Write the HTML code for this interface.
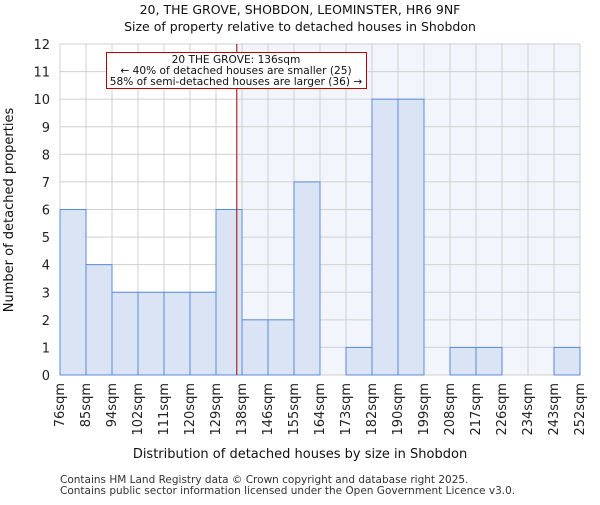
<!DOCTYPE html>
<html><head><meta charset="utf-8"><style>
body{margin:0;background:#fff;font-family:"Liberation Sans","DejaVu Sans",sans-serif}
</style></head><body>
<svg id="c" width="600" height="500" xmlns="http://www.w3.org/2000/svg" font-family="DejaVu Sans, Liberation Sans, sans-serif"></svg>
<script>
const binLabels=["76sqm","85sqm","94sqm","102sqm","111sqm","120sqm","129sqm","138sqm","146sqm","155sqm","164sqm","173sqm","182sqm","190sqm","199sqm","208sqm","217sqm","226sqm","234sqm","243sqm","252sqm"];
const counts=[6,4,3,3,3,3,6,2,2,7,0,1,10,10,0,1,1,0,0,1];
const yTicks=[0,1,2,3,4,5,6,7,8,9,10,11,12];
const markerBin=6.8;
const NS="http://www.w3.org/2000/svg";
const svg=document.getElementById('c');
const L=60,R=580,T=44,B=375,yMax=12;
const nb=counts.length;
const xs=i=>L+(R-L)*i/nb;
const ys=v=>B-(B-T)*v/yMax;
function mk(t,a,p){const e=document.createElementNS(NS,t);for(const k in a)e.setAttribute(k,a[k]);(p||svg).appendChild(e);return e;}
const sh=mk('rect',{x:xs(markerBin),y:T,width:R-xs(markerBin),height:B-T,fill:'#f2f5fc'});


for(let i=0;i<=nb;i++){const g=mk('line',{x1:xs(i),x2:xs(i),y1:T,y2:B,stroke:'#d0d0d0','stroke-width':1});

}
yTicks.forEach(v=>{const g=mk('line',{x1:L,x2:R,y1:ys(v),y2:ys(v),stroke:'#d0d0d0','stroke-width':1});


const t=mk('text',{x:L-10,y:ys(v)+5,'text-anchor':'end','font-size':13,fill:'#222'});t.textContent=v;

});
counts.forEach((c,i)=>{if(!c)return;const r=mk('rect',{x:xs(i),y:ys(c),width:xs(i+1)-xs(i),height:B-ys(c),fill:'#dae4f5',stroke:'#5a8bd8','stroke-width':1});

});
binLabels.forEach((s,i)=>{const x=xs(i)+4;const t=mk('text',{x:x,y:383,'text-anchor':'end','font-size':13,fill:'#222',transform:`rotate(-90 ${x} 383)`});t.textContent=s;

});
const ml=mk('line',{x1:xs(markerBin),x2:xs(markerBin),y1:T,y2:B,stroke:'#a00000','stroke-width':1});


</script>
<svg style="position:absolute;left:0;top:0" width="600" height="500" font-family="DejaVu Sans, Liberation Sans, sans-serif">
<rect x="106.5" y="52.5" width="260" height="36" fill="#fff" stroke="#c00000"/>
<text x="236" y="63" text-anchor="middle" font-size="10.6" fill="#111">20 THE GROVE: 136sqm</text>
<text x="236" y="74" text-anchor="middle" font-size="10.6" fill="#111">← 40% of detached houses are smaller (25)</text>
<text x="236" y="85" text-anchor="middle" font-size="10.6" fill="#111">58% of semi-detached houses are larger (36) →</text>
<text x="300" y="14" text-anchor="middle" font-size="12.5" fill="#111">20, THE GROVE, SHOBDON, LEOMINSTER, HR6 9NF</text>
<text x="300" y="31" text-anchor="middle" font-size="12.5" fill="#111">Size of property relative to detached houses in Shobdon</text>
<text x="300" y="458" text-anchor="middle" font-size="13" fill="#111">Distribution of detached houses by size in Shobdon</text>
<text x="13" y="210" text-anchor="middle" font-size="13" fill="#111" transform="rotate(-90 13 210)">Number of detached properties</text>
<text x="60" y="483" font-size="10.5" fill="#333">Contains HM Land Registry data © Crown copyright and database right 2025.</text>
<text x="60" y="494" font-size="10.5" fill="#333">Contains public sector information licensed under the Open Government Licence v3.0.</text>
</svg>
</body></html>
